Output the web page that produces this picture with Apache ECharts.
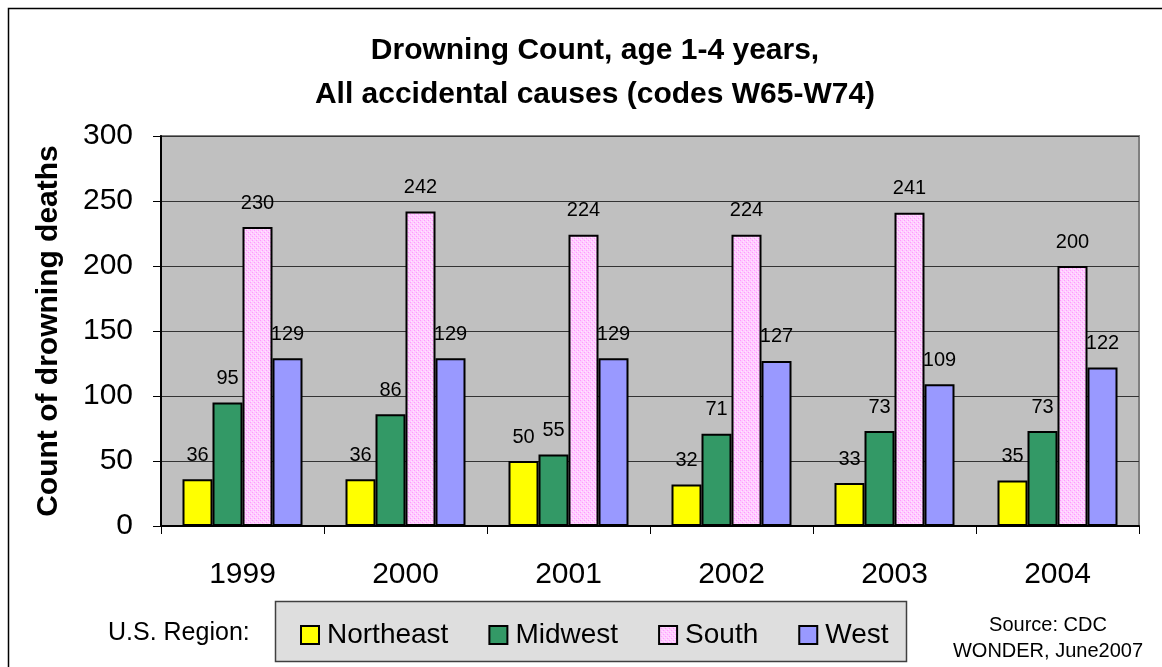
<!DOCTYPE html>
<html>
<head>
<meta charset="utf-8">
<title>Drowning Count, age 1-4 years</title>
<script src="https://cdn.jsdelivr.net/npm/echarts@6/dist/echarts.min.js"></script>
<style>
  html, body { margin: 0; padding: 0; background: #fff; }
  #chart { width: 1162px; height: 667px; }
</style>
</head>
<body>
<div id="chart"></div>
<script>
// Drowning deaths, children aged 1-4, by U.S. region and year
const years = ['1999', '2000', '2001', '2002', '2003', '2004'];
const northeast = [36, 36, 50, 32, 33, 35];
const midwest   = [95, 86, 55, 71, 73, 73];
const south     = [230, 242, 224, 224, 241, 200];
const west      = [129, 129, 129, 127, 109, 122];
const regionNames = ['Northeast', 'Midwest', 'South', 'West'];
const yTicks = [0, 50, 100, 150, 200, 250, 300];

const FONT = "'Liberation Sans', Arial, sans-serif";

// Fine dotted pink fill used for the South bars
function southPattern() {
  const c = document.createElement('canvas');
  c.width = 4; c.height = 4;
  const g = c.getContext('2d');
  g.fillStyle = '#ffccff';
  g.fillRect(0, 0, 4, 4);
  g.fillStyle = '#ff99ff';
  g.fillRect(0, 0, 1, 1);
  g.fillRect(2, 2, 1, 1);
  g.fillStyle = '#ffe6ff';
  g.fillRect(1, 3, 1, 1);
  g.fillRect(3, 1, 1, 1);
  return { image: c, repeat: 'repeat' };
}

const fills = ['#ffff00', '#339966', southPattern(), '#9999ff'];
const values = [northeast, midwest, south, west];

const chart = echarts.init(document.getElementById('chart'), null, { renderer: 'canvas' });

const series = regionNames.map((name, i) => ({
  name: name,
  type: 'bar',
  data: values[i],
  barWidth: 30,
  barGap: '0%',
  itemStyle: { color: fills[i], borderColor: '#000', borderWidth: 2 },
  label: {
    show: true,
    position: 'top',
    distance: 14,
    color: '#000',
    fontFamily: FONT,
    fontSize: 20
  }
}));

chart.setOption({
  animation: false,
  backgroundColor: '#fff',
  textStyle: { fontFamily: FONT },
  title: {
    text: 'Drowning Count, age 1-4 years,\nAll accidental causes (codes W65-W74)',
    left: 590,
    top: 24,
    textAlign: 'center',
    textStyle: {
      fontFamily: FONT,
      fontSize: 30,
      fontWeight: 'bold',
      color: '#000',
      lineHeight: 44
    }
  },
  grid: {
    left: 161,
    top: 136,
    right: 23,
    bottom: 141,
    show: true,
    backgroundColor: '#c0c0c0',
    borderColor: '#808080',
    borderWidth: 2
  },
  legend: {
    data: regionNames,
    left: 295,
    top: 616,
    itemWidth: 18,
    itemHeight: 18,
    itemGap: 40,
    icon: 'rect',
    itemStyle: { borderColor: '#000', borderWidth: 2 },
    textStyle: { fontFamily: FONT, fontSize: 28, color: '#000', padding: [0, 0, 0, 3] },
    selectedMode: false
  },
  xAxis: {
    type: 'category',
    data: years,
    axisLine: { lineStyle: { color: '#000', width: 2 } },
    axisTick: { show: true, length: 8, lineStyle: { color: '#000', width: 1 } },
    axisLabel: { color: '#000', fontSize: 30, fontFamily: FONT, margin: 34 }
  },
  yAxis: {
    type: 'value',
    min: yTicks[0],
    max: yTicks[yTicks.length - 1],
    interval: yTicks[1] - yTicks[0],
    name: 'Count of drowning deaths',
    nameLocation: 'middle',
    nameGap: 97,
    nameRotate: 90,
    nameTextStyle: { fontFamily: FONT, fontSize: 30, fontWeight: 'bold', color: '#000' },
    axisLine: { show: true, lineStyle: { color: '#000', width: 2 } },
    axisTick: { show: true, length: 8, lineStyle: { color: '#000', width: 1 } },
    axisLabel: { color: '#000', fontSize: 30, fontFamily: FONT, margin: 28 },
    splitLine: { show: true, lineStyle: { color: '#333', width: 1 } }
  },
  series: series,
  graphic: [
    {
      type: 'rect',
      shape: { x: 8.5, y: 8.5, width: 1200, height: 700 },
      style: { fill: null, stroke: '#000', lineWidth: 1.5 },
      silent: true,
      z: -10
    },
    {
      type: 'rect',
      shape: { x: 275.5, y: 601.5, width: 631, height: 60 },
      style: { fill: '#dedede', stroke: '#404040', lineWidth: 1.5 },
      silent: true,
      z: -5
    },
    {
      type: 'text',
      x: 108,
      y: 633,
      style: {
        text: 'U.S. Region:',
        fontFamily: FONT,
        fontSize: 25,
        fill: '#000',
        verticalAlign: 'middle'
      }
    },
    {
      type: 'text',
      x: 1048,
      y: 638,
      style: {
        text: 'Source: CDC\nWONDER, June2007',
        fontFamily: FONT,
        fontSize: 20,
        lineHeight: 26,
        fill: '#000',
        align: 'center',
        verticalAlign: 'middle'
      }
    }
  ]
});
</script>
</body>
</html>
